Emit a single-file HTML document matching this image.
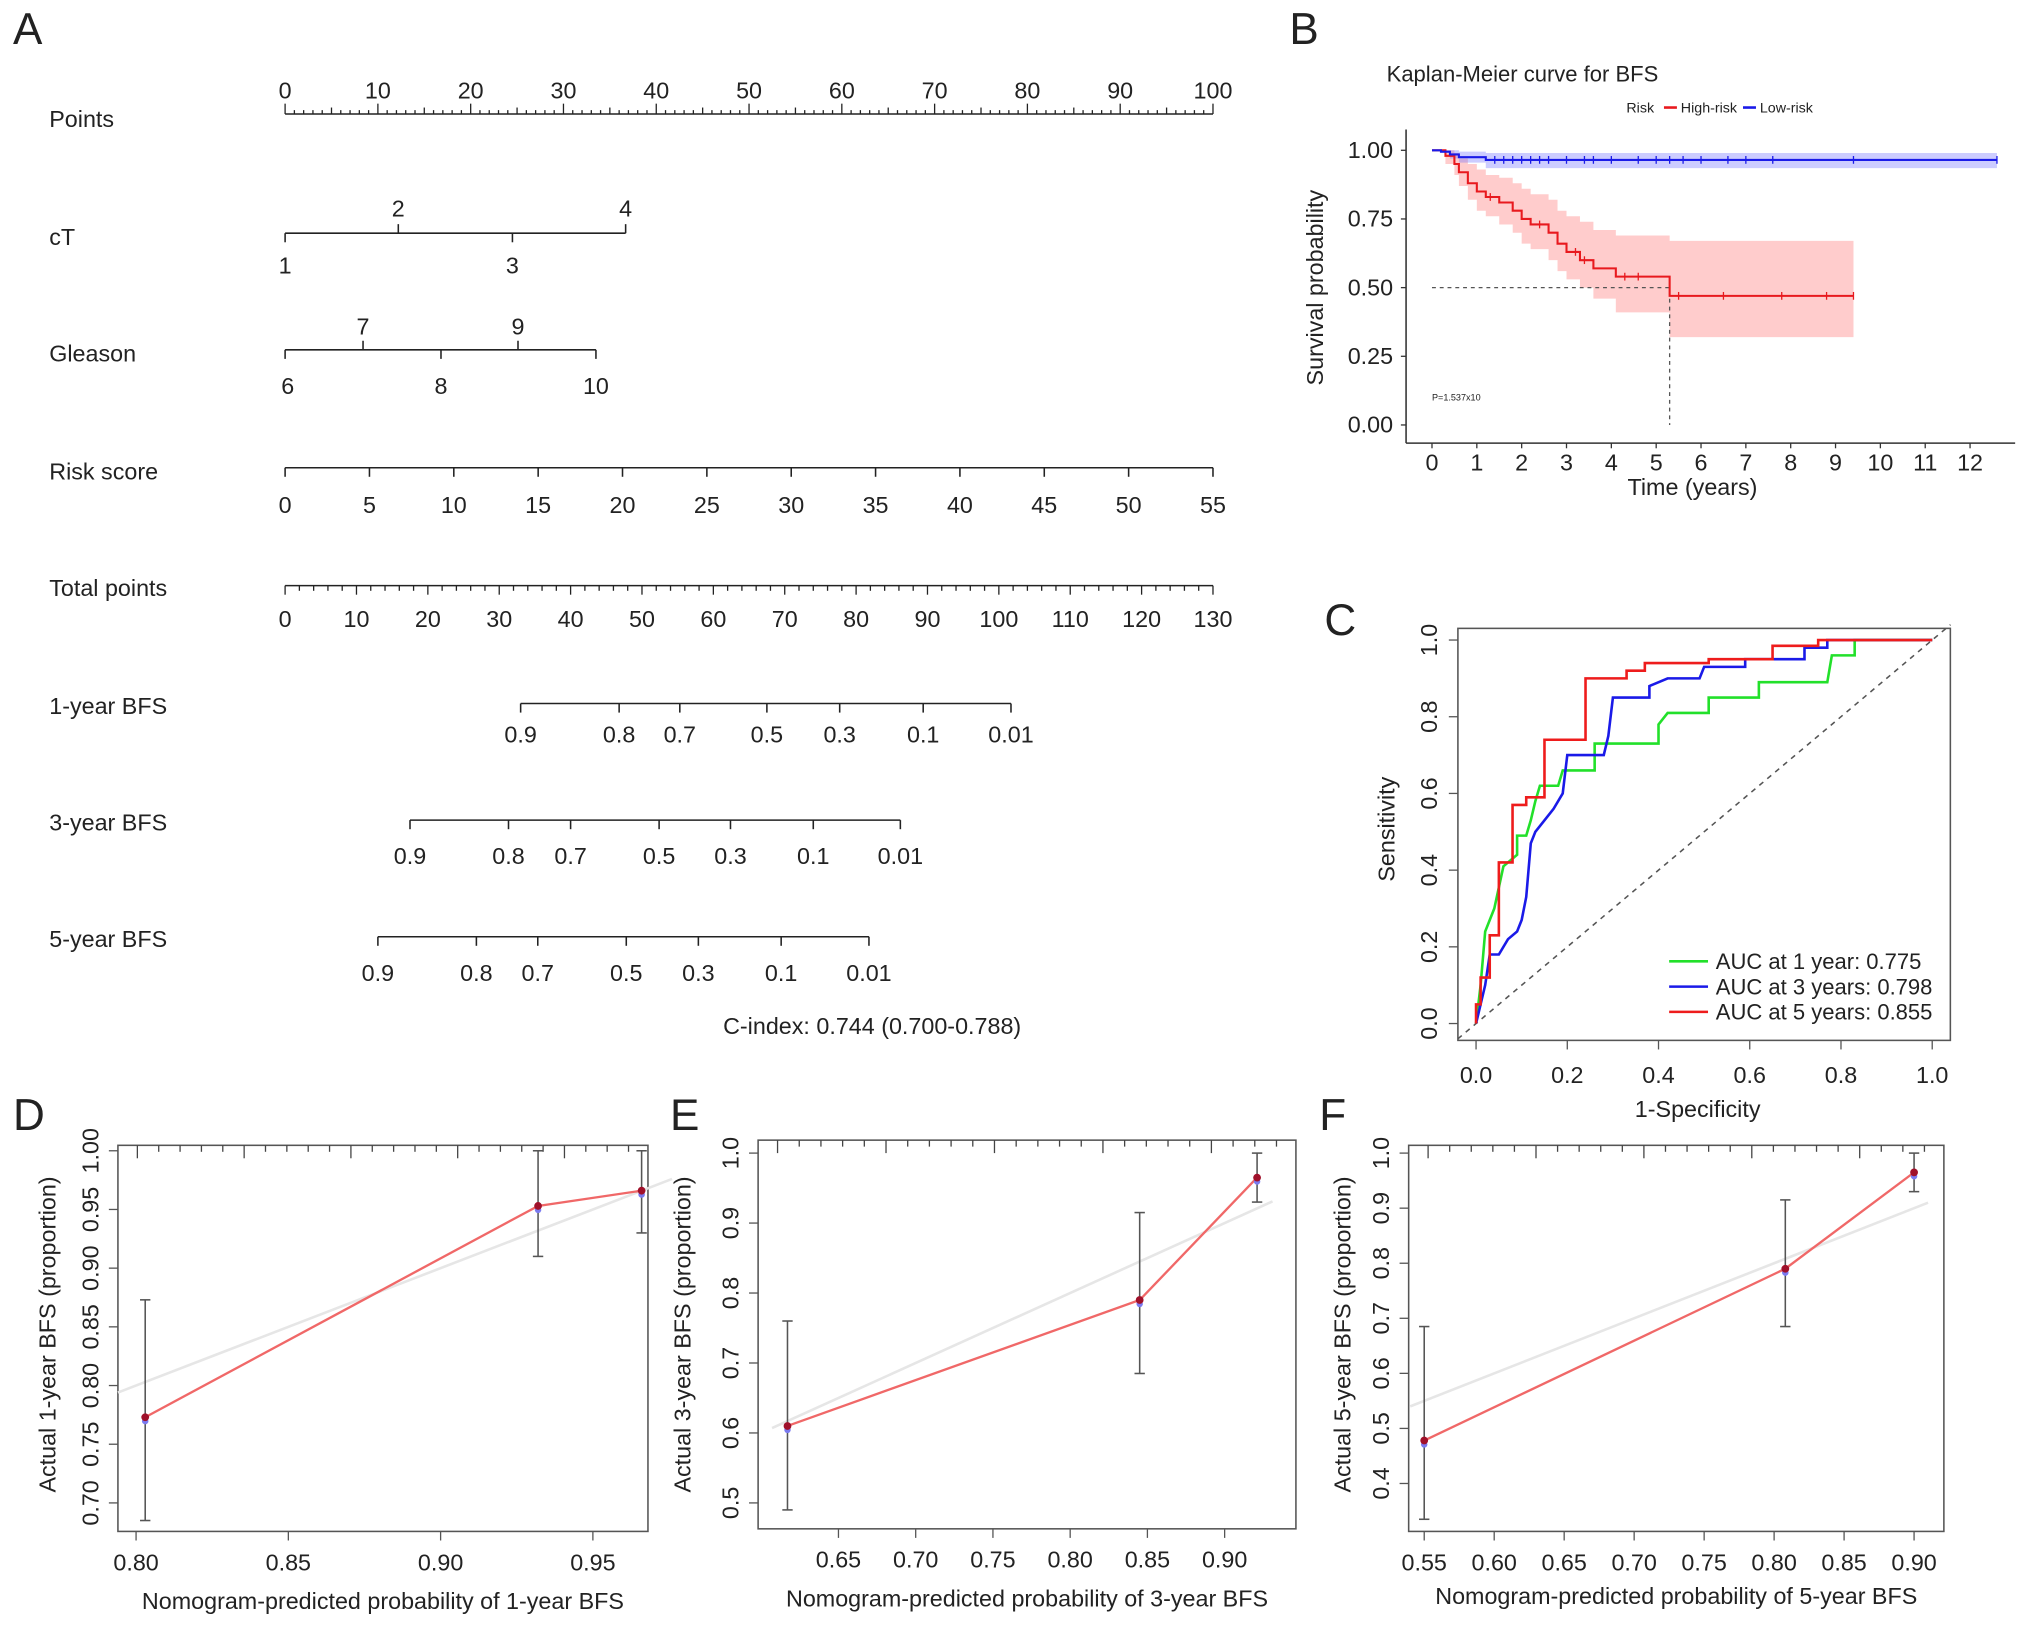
<!DOCTYPE html>
<html><head><meta charset="utf-8"><style>
html,body{margin:0;padding:0;background:#fff;}
svg{display:block;font-family:"Liberation Sans",Arial,sans-serif;}
</style></head><body>
<svg id="fig" width="2032" height="1626" viewBox="0 0 1568 1255" preserveAspectRatio="none" xmlns="http://www.w3.org/2000/svg">
<rect width="1568" height="1255" fill="#fff"/>
</svg>
<script>
// ---------- data ----------
const nomoRowLabels = ["Points","cT","Gleason","Risk score","Total points","1-year BFS","3-year BFS","5-year BFS"];
const pointsTicks = [0,10,20,30,40,50,60,70,80,90,100];
const ctValues = [1,2,3,4];
const ctPoints = [0,12.2,24.5,36.7];
const gleasonValues = [6,7,8,9,10];
const gleasonPoints = [0,8.4,16.8,25.1,33.5];
const riskTicks = [0,5,10,15,20,25,30,35,40,45,50,55];
const totalTicks = [0,10,20,30,40,50,60,70,80,90,100,110,120,130];
const bfsLabels = ["0.9","0.8","0.7","0.5","0.3","0.1","0.01"];
const bfs1Total = [33.0,46.8,55.3,67.5,77.7,89.4,101.7];
const bfs3Total = [17.5,31.3,40.0,52.4,62.4,74.0,86.2];
const bfs5Total = [13.0,26.8,35.4,47.8,57.9,69.5,81.8];

const kmHighT = [0,0.3,0.5,0.6,0.8,1.0,1.2,1.5,1.8,2.0,2.2,2.6,2.8,3.0,3.3,3.6,4.1,5.3,9.4];
const kmHighS = [1,0.98,0.95,0.92,0.88,0.85,0.83,0.81,0.78,0.75,0.73,0.70,0.66,0.63,0.60,0.57,0.54,0.47,0.47];
const kmHighUp = [1,1,0.99,0.97,0.95,0.93,0.91,0.90,0.88,0.86,0.84,0.82,0.78,0.76,0.74,0.71,0.69,0.67,0.67];
const kmHighLo = [1,0.95,0.91,0.87,0.82,0.78,0.76,0.73,0.70,0.66,0.64,0.60,0.56,0.53,0.50,0.46,0.41,0.32,0.32];
const kmLowT = [0,0.2,0.4,0.6,1.2,12.6];
const kmLowS = [1,0.995,0.985,0.975,0.965,0.965];
const kmLowUp = [1,1,1,0.995,0.99,0.99];
const kmLowLo = [1,0.99,0.97,0.955,0.935,0.935];
const kmXTicks = [0,1,2,3,4,5,6,7,8,9,10,11,12];
const kmYTicks = [0,0.25,0.5,0.75,1.0];
const kmHighCens = [1.3,2.4,3.2,3.4,4.3,4.6,5.5,6.5,7.8,8.8,9.4];
const kmLowCens = [1.4,1.6,1.8,2.0,2.2,2.4,2.6,3.0,3.4,3.6,4.0,4.6,5.0,5.3,5.6,6.0,6.6,7.0,7.6,9.4,12.6];

const rocTicks = [0,0.2,0.4,0.6,0.8,1.0];
const rocGreenX = [0,0.01,0.02,0.03,0.04,0.06,0.09,0.09,0.11,0.12,0.13,0.14,0.18,0.19,0.26,0.26,0.40,0.40,0.42,0.51,0.51,0.62,0.62,0.77,0.78,0.83,0.83,1];
const rocGreenY = [0,0.10,0.24,0.27,0.30,0.41,0.44,0.49,0.49,0.53,0.58,0.62,0.62,0.66,0.66,0.73,0.73,0.78,0.81,0.81,0.85,0.85,0.89,0.89,0.96,0.96,1,1];
const rocBlueX = [0,0.01,0.02,0.03,0.05,0.07,0.09,0.10,0.11,0.12,0.13,0.15,0.17,0.19,0.20,0.28,0.29,0.30,0.38,0.38,0.42,0.49,0.50,0.59,0.59,0.72,0.72,0.77,0.77,1];
const rocBlueY = [0,0.05,0.10,0.18,0.18,0.22,0.24,0.27,0.33,0.47,0.50,0.53,0.56,0.60,0.70,0.70,0.75,0.85,0.85,0.88,0.90,0.90,0.93,0.93,0.95,0.95,0.98,0.98,1,1];
const rocRedX = [0,0,0.01,0.01,0.03,0.03,0.05,0.05,0.08,0.08,0.11,0.11,0.15,0.15,0.24,0.24,0.33,0.33,0.37,0.37,0.51,0.51,0.65,0.65,0.75,0.75,1];
const rocRedY = [0,0.05,0.05,0.12,0.12,0.23,0.23,0.42,0.42,0.57,0.57,0.59,0.59,0.74,0.74,0.90,0.90,0.92,0.92,0.94,0.94,0.95,0.95,0.985,0.985,1,1];
const rocLegend = ["AUC at 1 year: 0.775","AUC at 3 years: 0.798","AUC at 5 years: 0.855"];

const calDPred = [0.803,0.932,0.966];
const calDObs = [0.773,0.953,0.966];
const calDLo = [0.685,0.910,0.930];
const calDHi = [0.873,1.0,1.0];
const calDXTicks = [0.80,0.85,0.90,0.95];
const calDYTicks = [0.70,0.75,0.80,0.85,0.90,0.95,1.00];
const calEPred = [0.617,0.845,0.921];
const calEObs = [0.610,0.790,0.965];
const calELo = [0.490,0.685,0.930];
const calEHi = [0.760,0.915,1.0];
const calEXTicks = [0.65,0.70,0.75,0.80,0.85,0.90];
const calEYTicks = [0.5,0.6,0.7,0.8,0.9,1.0];
const calFPred = [0.550,0.808,0.900];
const calFObs = [0.478,0.790,0.965];
const calFLo = [0.335,0.685,0.930];
const calFHi = [0.685,0.915,1.0];
const calFXTicks = [0.55,0.60,0.65,0.70,0.75,0.80,0.85,0.90];
const calFYTicks = [0.4,0.5,0.6,0.7,0.8,0.9,1.0];

// ---------- helpers ----------
const NS="http://www.w3.org/2000/svg";
const svg=document.getElementById('fig');
function mk(tag,attrs,parent){const e=document.createElementNS(NS,tag);for(const k in attrs)e.setAttribute(k,attrs[k]);(parent||svg).appendChild(e);return e;}
function line(x1,y1,x2,y2,stroke,w,p){return mk('line',{x1,y1,x2,y2,stroke:stroke||'#222','stroke-width':w||1.2},p);}
function text(x,y,s,size,anchor,p,extra){const t=mk('text',Object.assign({x,y,'font-size':size,'text-anchor':anchor||'start',fill:'#222'},extra||{}),p);t.textContent=s;return t;}
function group(){return mk('g',{});}
const fmt2=v=>v.toFixed(2);

// panel letters
[["A",10,34],["B",995,34],["C",1022,490],["D",10,872],["E",517,872],["F",1018,872]].forEach(a=>{
  const t=text(a[1],a[2],a[0],34,'start');
  
  
});

// ---------- A: nomogram ----------
const gA=group();


const NX0=220, NX1=936;
const px=p=>NX0+(NX1-NX0)*p/100;
const rowY=[98,189,279,370,460,551,641,731];
nomoRowLabels.forEach((l,i)=>{const t=text(38,rowY[i],l,18,'start',gA);
  
  });
// points
line(NX0,88,NX1,88,'#222',1.2,gA);
for(let i=0;i<=100;i++){const x=px(i);line(x,88,x,i%10==0?80:(i%5==0?83:85),'#222',1,gA);}
pointsTicks.forEach(v=>{const t=text(px(v),76,String(v),18,'middle',gA);
  
  });
// cT
line(px(0),180,px(ctPoints[3]),180,'#222',1.2,gA);
ctValues.forEach((v,i)=>{const x=px(ctPoints[i]);const up=i%2==1;line(x,180,x,up?173:187,'#222',1.2,gA);
  const t=text(x,up?167:211,String(v),18,'middle',gA);
  
  });
// Gleason
line(px(0),270,px(gleasonPoints[4]),270,'#222',1.2,gA);
gleasonValues.forEach((v,i)=>{const x=px(gleasonPoints[i]);const up=i%2==1;line(x,270,x,up?263:277,'#222',1.2,gA);
  const t=text(x+(i==0?2:0),up?258:304,String(v),18,'middle',gA);
  
  });
// Risk score
line(NX0,361,NX1,361,'#222',1.2,gA);
riskTicks.forEach(v=>{const x=NX0+(NX1-NX0)*v/55;line(x,361,x,368,'#222',1.2,gA);
  const t=text(x,396,String(v),18,'middle',gA);
  
  });
// Total points
const tx=v=>NX0+(NX1-NX0)*v/130;
line(NX0,452,NX1,452,'#222',1.2,gA);
for(let i=0;i<=130;i+=2){const x=tx(i);line(x,452,x,i%10==0?459:456,'#222',1,gA);}
totalTicks.forEach(v=>{const t=text(tx(v),484,String(v),18,'middle',gA);
  
  });
// BFS axes
[[bfs1Total,543,573],[bfs3Total,633,667],[bfs5Total,723,757]].forEach(r=>{
  const arr=r[0];line(tx(arr[0]),r[1],tx(arr[arr.length-1]),r[1],'#222',1.2,gA);
  arr.forEach((v,i)=>{const x=tx(v);line(x,r[1],x,r[1]+7,'#222',1.2,gA);
    const t=text(x,r[2],bfsLabels[i],18,'middle',gA);
    
    });
});
const ci=text(673,798,"C-index: 0.744 (0.700-0.788)",18,'middle',gA);



// ---------- B: KM ----------
const gB=group();


const kx=t=>1105+34.6*t, ky=s=>328-212*s;
function stepPts(T,S){let p=[];for(let i=0;i<T.length;i++){if(i>0)p.push([kx(T[i]),ky(S[i-1])]);p.push([kx(T[i]),ky(S[i])]);}return p;}
function band(T,U,L,fill,name){const up=stepPts(T,U),lo=stepPts(T,L).reverse();
  const pg=mk('polygon',{points:up.concat(lo).map(p=>p.join(',')).join(' '),fill:fill,stroke:'none'},gB);
  
  }
band(kmHighT,kmHighUp,kmHighLo,'rgba(255,120,120,0.38)','high-risk-ci-band');
band(kmLowT,kmLowUp,kmLowLo,'rgba(110,110,255,0.35)','low-risk-ci-band');
// median lines
mk('polyline',{points:`${kx(0)},${ky(0.5)} ${kx(5.3)},${ky(0.5)} ${kx(5.3)},${ky(0)}`,fill:'none',stroke:'#555','stroke-width':1,'stroke-dasharray':'3,3'},gB);
const hiLine=mk('polyline',{points:stepPts(kmHighT,kmHighS).map(p=>p.join(',')).join(' '),fill:'none',stroke:'#e8191e','stroke-width':1.6},gB);


const loLine=mk('polyline',{points:stepPts(kmLowT,kmLowS).map(p=>p.join(',')).join(' '),fill:'none',stroke:'#1a1ae8','stroke-width':1.6},gB);


function survAt(T,S,t){let s=S[0];for(let i=0;i<T.length;i++)if(T[i]<=t)s=S[i];return s;}
kmHighCens.forEach(t=>{const y=ky(survAt(kmHighT,kmHighS,t));line(kx(t),y-3,kx(t),y+3,'#e8191e',1,gB);});
kmLowCens.forEach(t=>{const y=ky(survAt(kmLowT,kmLowS,t));line(kx(t),y-3,kx(t),y+3,'#1a1ae8',1,gB);});
// axes
line(1085,100,1085,342,'#333',1.2,gB);line(1085,342,1555,342,'#333',1.2,gB);
kmXTicks.forEach(v=>{line(kx(v),342,kx(v),346,'#333',1,gB);const t=text(kx(v),363,String(v),18,'middle',gB);
  
  });
kmYTicks.forEach(v=>{line(1081,ky(v),1085,ky(v),'#333',1,gB);const t=text(1075,ky(v)+6,fmt2(v),18,'end',gB);
  
  });
let t;
t=text(1306,382,"Time (years)",18,'middle',gB);


t=text(0,0,"Survival probability",18,'middle',gB,{transform:'translate(1021,222) rotate(-90)'});


t=text(1070,63,"Kaplan-Meier curve for BFS",17,'start',gB);


t=text(1105,309,"P=1.537x10",7,'start',gB);


const gl=group();


text(1255,87,"Risk",11,'start',gl);
line(1284,83,1294,83,'#e8191e',2,gl);
text(1297,87,"High-risk",11,'start',gl);
line(1345,83,1355,83,'#1a1ae8',2,gl);
text(1358,87,"Low-risk",11,'start',gl);

// ---------- C: ROC ----------
const gC=group();


const rx=v=>1139+352*v, ry=v=>790-296*v;
mk('rect',{x:1125,y:485,width:380,height:318,fill:'none',stroke:'#555','stroke-width':1.2},gC);
line(rx(-0.04),ry(-0.04),rx(1.04),ry(1.04),'#555',1.2,gC).setAttribute('stroke-dasharray','4,4');
[[rocGreenX,rocGreenY,'#22e02a','roc-curve-1-year'],[rocBlueX,rocBlueY,'#1a1ae8','roc-curve-3-year'],[rocRedX,rocRedY,'#ee1c1c','roc-curve-5-year']].forEach(c=>{
  const pl=mk('polyline',{points:c[0].map((x,i)=>rx(x)+','+ry(c[1][i])).join(' '),fill:'none',stroke:c[2],'stroke-width':2},gC);
  
  
});
rocTicks.forEach(v=>{line(rx(v),803,rx(v),810,'#555',1,gC);let tt=text(rx(v),836,v.toFixed(1),18,'middle',gC);
  
  
  line(1118,ry(v),1125,ry(v),'#555',1,gC);
  tt=text(0,0,v.toFixed(1),18,'middle',gC,{transform:`translate(1109,${ry(v)}) rotate(-90)`});
  
  });
t=text(1310,862,"1-Specificity",18,'middle',gC);


t=text(0,0,"Sensitivity",18,'middle',gC,{transform:'translate(1076,640) rotate(-90)'});


['#22e02a','#1a1ae8','#ee1c1c'].forEach((c,i)=>{const y=742+19.5*i;line(1288,y,1318,y,c,2,gC);
  const tt=text(1324,y+6,rocLegend[i],17,'start',gC);
  
  });

// ---------- D/E/F: calibration ----------
function calib(o){
  const g=group();
  
  
  const X=v=>o.xa+(v-o.xv0)*o.xs, Y=v=>o.ya-(v-o.yv0)*o.ys;
  mk('rect',{x:o.bx0,y:o.by0,width:o.bx1-o.bx0,height:o.by1-o.by0,fill:'none',stroke:'#555','stroke-width':1.2},g);
  // rug ticks at top
  for(let i=0;i<24;i++){const x=o.bx0+15+i*(o.bx1-o.bx0-30)/23;line(x,o.by0,x,o.by0+(i%5==0?10:5),'#444',1,g);}
  // ideal line
  const lx0=Math.max(o.bx0,X(o.yv0-0.2)), lv0=(lx0-o.xa)/o.xs+o.xv0;
  const lv1=o.pred[2]+0.01;
  line(X(Math.max(lv0,o.pred[0]-0.01)),Y(Math.max(lv0,o.pred[0]-0.01)),X(lv1),Y(lv1),'#e6e6e6',2,g);
  const pl=mk('polyline',{points:o.pred.map((p,i)=>X(p)+','+Y(o.obs[i])).join(' '),fill:'none',stroke:'#f06868','stroke-width':1.8},g);
  
  
  o.pred.forEach((p,i)=>{const x=X(p);line(x,Y(o.lo[i]),x,Y(o.hi[i]),'#555',1.2,g);
    line(x-4,Y(o.lo[i]),x+4,Y(o.lo[i]),'#555',1.2,g);line(x-4,Y(o.hi[i]),x+4,Y(o.hi[i]),'#555',1.2,g);
    mk('circle',{cx:x,cy:Y(o.obs[i])+3,r:2.5,fill:'#7a7af0'},g);
    const c=mk('circle',{cx:x,cy:Y(o.obs[i]),r:3,fill:'#a0102a'},g);
    
    });
  o.xt.forEach(v=>{line(X(v),o.by1,X(v),o.by1+7,'#555',1,g);const tt=text(X(v),o.by1+30,v.toFixed(2),18,'middle',g);
    
    });
  o.yt.forEach(v=>{line(o.bx0-7,Y(v),o.bx0,Y(v),'#555',1,g);const tt=text(0,0,v.toFixed(o.yd),18,'middle',g,{transform:`translate(${o.bx0-15},${Y(v)}) rotate(-90)`});
    
    });
  let tt=text((o.bx0+o.bx1)/2,o.xly,o.xl,18,'middle',g);
  
  
  tt=text(0,0,o.yl,18,'middle',g,{transform:`translate(${o.ylx},1030) rotate(-90)`});
  
  
}
calib({name:'calibration-1-year',bx0:91,bx1:500,by0:884,by1:1182,xa:105,xv0:0.80,xs:2350,ya:1160,yv0:0.70,ys:906,
  pred:calDPred,obs:calDObs,lo:calDLo,hi:calDHi,xt:calDXTicks,yt:calDYTicks,yd:2,xly:1242,ylx:43,
  xl:"Nomogram-predicted probability of 1-year BFS",yl:"Actual 1-year BFS (proportion)"});
calib({name:'calibration-3-year',bx0:585,bx1:1000,by0:880,by1:1180,xa:647,xv0:0.65,xs:1192,ya:1160,yv0:0.5,ys:540,
  pred:calEPred,obs:calEObs,lo:calELo,hi:calEHi,xt:calEXTicks,yt:calEYTicks,yd:1,xly:1240,ylx:533,
  xl:"Nomogram-predicted probability of 3-year BFS",yl:"Actual 3-year BFS (proportion)"});
calib({name:'calibration-5-year',bx0:1087,bx1:1500,by0:884,by1:1182,xa:1099,xv0:0.55,xs:1080,ya:1145,yv0:0.4,ys:425,
  pred:calFPred,obs:calFObs,lo:calFLo,hi:calFHi,xt:calFXTicks,yt:calFYTicks,yd:1,xly:1238,ylx:1042,
  xl:"Nomogram-predicted probability of 5-year BFS",yl:"Actual 5-year BFS (proportion)"});
</script>
</body></html>
